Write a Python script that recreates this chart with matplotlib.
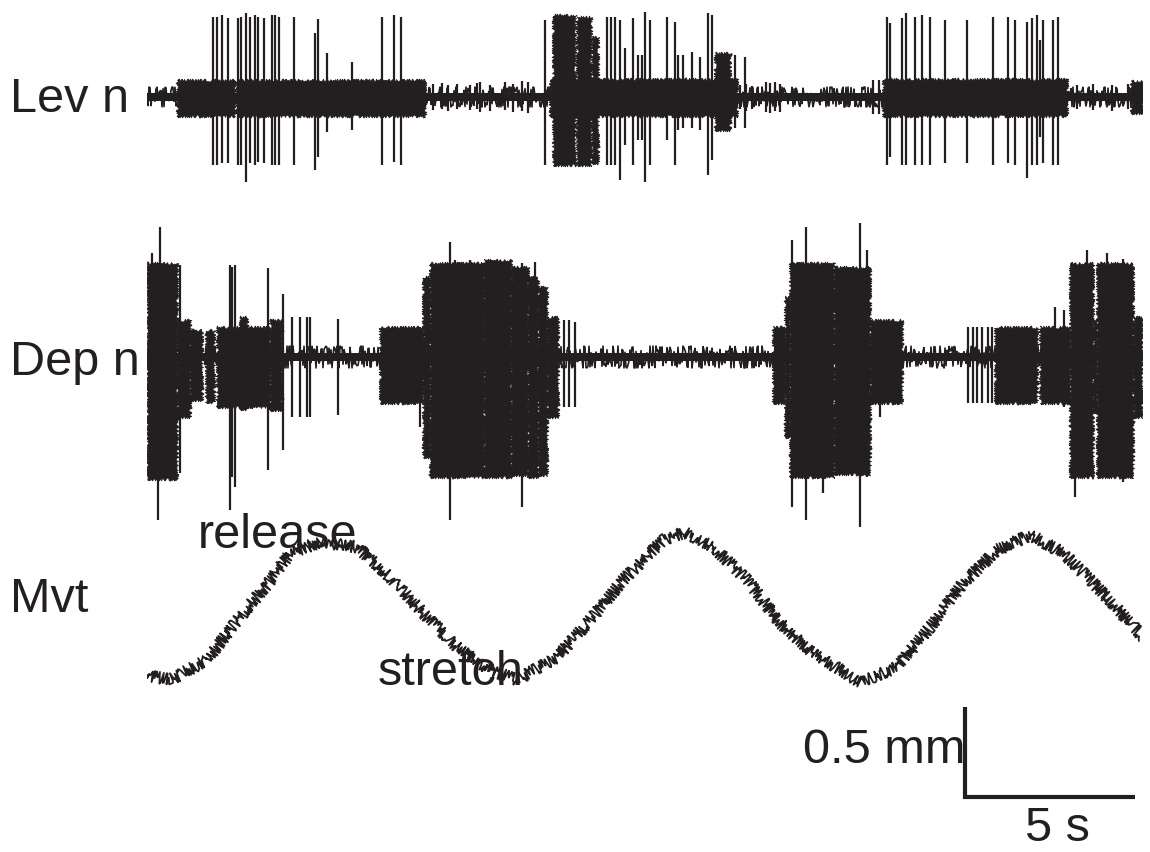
import numpy as np
import matplotlib
matplotlib.use("Agg")
import matplotlib.pyplot as plt

INK = "#231f20"
plt.rcParams["font.family"] = ["Liberation Sans", "DejaVu Sans"]

# time axis of the recording (s)
t_end = 29.29

# ---- Lev n (a.u., + up / - down) ----
# dense activity blocks: (t0, t1, up, down)
lev_blocks = [
    (0.88, 2.59, 17, 19), (2.65, 8.18, 17, 19),
    (11.85, 17.35, 18, 19), (16.71, 17.15, 44, 33),
    (11.94, 12.60, 82, 68), (12.65, 13.06, 80, 68), (13.10, 13.26, 60, 66),
    (21.65, 27.06, 18, 19), (28.94, 29.29, 16, 16),
]
# single spikes: time, up, down
lev_spk_t = [1.94, 2.06, 2.21, 2.38, 2.68, 2.76, 2.91, 3.03, 3.18, 3.26, 3.44, 3.68, 3.76,
             3.88, 4.32, 4.94, 5.03, 5.29, 6.03, 6.91, 7.26, 7.47,
             8.41, 8.68, 8.85, 9.12, 9.50, 9.71, 9.79, 10.09, 10.53, 10.76, 11.03, 11.21,
             11.71, 13.53, 13.65, 13.76, 13.91, 14.06, 14.29, 14.44, 14.56, 14.65, 14.79,
             15.29, 15.53, 15.62, 15.76, 16.03, 16.26, 16.50, 16.62, 17.29, 17.59,
             17.45, 17.62, 17.78, 18.21, 18.32, 18.47, 18.62,
             21.35, 21.53, 21.76, 21.85, 22.21, 22.32, 22.59, 22.79, 23.03, 23.47, 24.12,
             24.88, 25.32, 25.53, 25.88, 26.03, 26.18, 26.26, 26.35, 26.65, 26.79,
             27.35, 27.82, 28.38, 28.85]
lev_spk_up = [80, 80, 82, 79, 79, 80, 84, 80, 82, 80, 79, 82, 82,
              80, 80, 64, 78, 44, 35, 80, 82, 80,
              13, 14, 12, 13, 12, 14, 15, 12, 15, 13, 16, 15,
              77, 80, 80, 80, 77, 49, 79, 42, 42, 85, 77,
              80, 75, 42, 42, 45, 40, 84, 82, 42, 40,
              12, 13, 11, 15, 14, 15, 13,
              17, 17, 80, 74, 79, 84, 80, 82, 80, 77, 77,
              80, 80, 77, 75, 79, 82, 57, 77, 77, 80,
              12, 13, 12, 13]
lev_spk_dn = [68, 68, 66, 66, 68, 68, 85, 66, 68, 65, 66, 68, 68,
              68, 68, 73, 60, 35, 33, 68, 65, 68,
              13, 12, 14, 12, 13, 12, 15, 14, 13, 15, 14, 16,
              68, 68, 68, 68, 83, 48, 68, 43, 43, 85, 68,
              43, 68, 33, 31, 31, 33, 78, 63, 31, 31,
              12, 14, 12, 15, 16, 14, 15,
              17, 17, 68, 60, 68, 68, 68, 68, 68, 66, 66,
              68, 66, 68, 81, 68, 68, 40, 66, 68, 68,
              12, 13, 14, 12]

# ---- Dep n ----
dep_blocks = [
    (0.00, 0.88, 94, 122), (0.88, 1.26, 37, 60), (1.26, 1.62, 27, 43),
    (1.74, 1.97, 27, 45), (2.06, 3.62, 30, 50), (2.74, 2.95, 40, 52),
    (3.62, 3.97, 37, 53), (6.85, 8.12, 30, 46), (8.12, 8.32, 80, 100),
    (8.32, 9.90, 94, 120), (9.90, 10.70, 97, 120), (10.70, 11.20, 90, 118),
    (11.20, 11.50, 80, 120), (11.50, 11.76, 70, 118), (11.76, 12.09, 40, 60),
    (18.41, 18.76, 30, 46), (18.76, 18.90, 60, 80), (18.90, 20.20, 94, 120),
    (20.20, 21.26, 90, 117), (21.26, 22.21, 37, 46),
    (24.94, 26.18, 30, 46), (26.26, 27.15, 30, 46),
    (27.15, 27.82, 94, 120), (27.82, 27.94, 37, 55), (27.94, 29.00, 94, 120),
    (29.00, 29.26, 40, 60),
]
dep_spk_t = [0.15, 0.32, 0.38, 0.97, 2.44, 2.50, 2.59, 3.56, 4.00, 4.26, 4.50, 4.71, 4.79,
             5.62, 8.03, 8.91, 9.06, 9.50, 10.06, 11.03, 11.41, 12.26, 12.40, 12.59,
             18.97, 19.38, 19.88, 20.97, 21.18, 21.56,
             24.15, 24.29, 24.41, 24.56, 24.74, 24.85, 26.71, 26.97,
             27.29, 27.65, 28.24, 28.70]
dep_spk_up = [104, 94, 130, 92, 92, 90, 92, 89, 63, 40, 40, 40, 40,
              38, 30, 115, 97, 97, 97, 94, 95, 37, 37, 35,
              117, 130, 94, 134, 107, 37,
              30, 30, 30, 30, 30, 30, 50, 47,
              94, 107, 104, 98]
dep_spk_dn = [120, 163, 120, 116, 153, 120, 130, 113, 93, 60, 60, 60, 60,
              58, 70, 163, 120, 120, 120, 150, 120, 50, 50, 50,
              150, 163, 136, 170, 120, 60,
              46, 46, 46, 46, 46, 46, 46, 50,
              140, 120, 120, 125]

# ---- Mvt (mm) ----
mvt_t = [0.00, 0.68, 1.76, 2.74, 3.71, 4.21, 5.09, 6.18, 7.15, 8.12, 9.12, 10.09, 10.88,
         12.06, 13.03, 14.00, 15.18, 15.82, 16.65, 17.65, 18.62, 19.59, 20.97, 22.06,
         23.03, 24.00, 25.00, 25.97, 26.94, 27.94, 29.29]
mvt_mm = [0.039, 0.011, 0.122, 0.361, 0.583, 0.717, 0.778, 0.750, 0.583, 0.383, 0.194,
          0.067, 0.011, 0.139, 0.344, 0.567, 0.789, 0.833, 0.750, 0.567, 0.328, 0.161,
          0.000, 0.083, 0.306, 0.550, 0.733, 0.817, 0.717, 0.528, 0.250]

fig = plt.figure(figsize=(11.5, 8.52), dpi=100)
W, H = 1150, 852
left, width = 147 / W, 996 / W

ax_lev = fig.add_axes([left, 1 - 190 / H, width, 190 / H])
ax_dep = fig.add_axes([left, 1 - 535 / H, width, 325 / H])
ax_mvt = fig.add_axes([left, 1 - 820 / H, width, 300 / H])
ax_lev.set_ylim(-93, 97)
ax_dep.set_ylim(-178, 147)
ax_mvt.set_ylim(-0.767, 0.9)


def draw_unit(ax, blocks, st, su, sd, noise):
    # baseline noise
    ax.fill_between([0, t_end], [-noise * 0.4] * 2, [noise * 0.4] * 2, color=INK, lw=0)
    ln, = ax.plot([0, t_end], [0, 0], color=INK, lw=1.2)
    ln.set_sketch_params(scale=noise, length=1.0, randomness=3)
    t0s = [b[0] for b in blocks]
    wid = [b[1] - b[0] for b in blocks]
    ups = np.array([b[2] for b in blocks])
    dns = np.array([b[3] for b in blocks])
    bars = ax.bar(t0s, ups + dns, width=wid, bottom=-dns, align="edge",
                  color=INK, edgecolor=INK, lw=0.6)
    for b in bars:
        b.set_sketch_params(scale=1.5, length=2, randomness=3)
    ax.vlines(st, -np.array(sd), np.array(su), color=INK, lw=1.6)


draw_unit(ax_lev, lev_blocks, lev_spk_t, lev_spk_up, lev_spk_dn, 10)
draw_unit(ax_dep, dep_blocks, dep_spk_t, dep_spk_up, dep_spk_dn, 11)

mv, = ax_mvt.plot(mvt_t, mvt_mm, color=INK, lw=1.3)
mv.set_sketch_params(scale=6, length=0.8, randomness=3)

# scale bar: 5 s / 0.5 mm
ax_mvt.plot([24.06, 24.06, 29.06], [-0.139, -0.639, -0.639], color=INK, lw=3,
            solid_joinstyle="miter", solid_capstyle="butt")

for ax in (ax_lev, ax_dep, ax_mvt):
    ax.set_xlim(0, t_end)
    ax.axis("off")

fs = 35
fig.text(10 / W, 1 - 112 / H, "Lev n", fontsize=fs, color=INK, va="baseline")
fig.text(10 / W, 1 - 375 / H, "Dep n", fontsize=fs, color=INK, va="baseline")
fig.text(10 / W, 1 - 612 / H, "Mvt", fontsize=fs, color=INK, va="baseline")
fig.text(198 / W, 1 - 548 / H, "release", fontsize=fs, color=INK, va="baseline")
fig.text(378 / W, 1 - 685 / H, "stretch", fontsize=fs, color=INK, va="baseline")
fig.text(803 / W, 1 - 763 / H, "0.5 mm", fontsize=fs, color=INK, va="baseline")
fig.text(1025 / W, 1 - 841 / H, "5 s", fontsize=fs, color=INK, va="baseline")

fig.savefig("out.png", dpi=100, facecolor="white")
